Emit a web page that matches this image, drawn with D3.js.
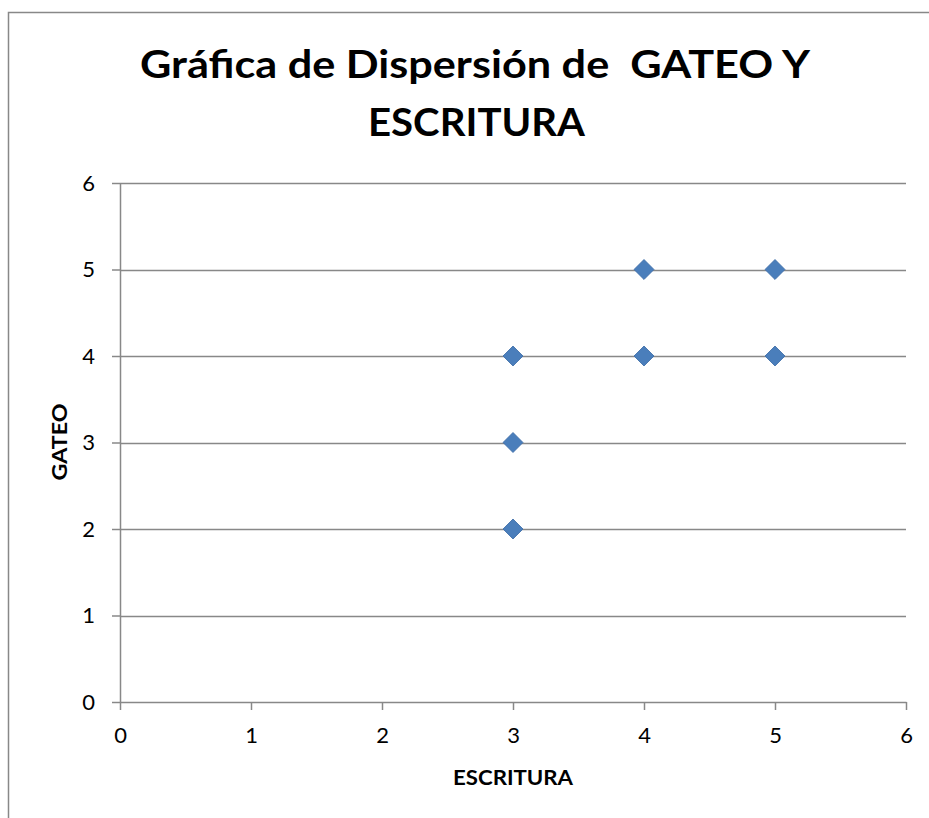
<!DOCTYPE html>
<html>
<head>
<meta charset="utf-8">
<script src="https://cdn.jsdelivr.net/npm/d3@7"></script>
<style>
  html, body { margin: 0; padding: 0; background: #ffffff; }
  svg { display: block; }
</style>
</head>
<body>
<svg id="chart" width="929" height="818"></svg>
<script>
// ---- Data ----
const escritura = [3, 3, 3, 4, 4, 5, 5];
const gateo     = [2, 3, 4, 4, 5, 4, 5];
const xTicks = [0, 1, 2, 3, 4, 5, 6];
const yTicks = [0, 1, 2, 3, 4, 5, 6];
const titleLines = ["Gráfica de Dispersión de  GATEO Y", "ESCRITURA"];
const xTitle = "ESCRITURA";
const yTitle = "GATEO";

const svg = d3.select("#chart");
const W = 929, H = 818;
const plot = { left: 120, right: 906, top: 183, bottom: 702 };

svg.append("rect").attr("x", 0).attr("y", 0).attr("width", W).attr("height", H).attr("fill", "#fff");
// outer chart border (extends past the picture on the right and bottom)
svg.append("rect")
  .attr("x", 8.5).attr("y", 12.5).attr("width", 1000).attr("height", 1000)
  .attr("fill", "none").attr("stroke", "#888888").attr("stroke-width", 1.5);

const x = d3.scaleLinear().domain([0, 6]).range([plot.left, plot.right]);
const y = d3.scaleLinear().domain([0, 6]).range([plot.bottom, plot.top]);

const gridColor = "#888888";

// gridlines
svg.append("g").selectAll("line")
  .data(yTicks.filter(d => d > 0))
  .join("line")
  .attr("x1", plot.left).attr("x2", plot.right)
  .attr("y1", d => Math.round(y(d)) + 0.5).attr("y2", d => Math.round(y(d)) + 0.5)
  .attr("stroke", gridColor).attr("stroke-width", 1.5);

const fontFam = "Lato, 'Open Sans', 'Liberation Sans', sans-serif";

// Y axis
const yAxis = svg.append("g")
  .attr("transform", `translate(${plot.left},0)`)
  .call(d3.axisLeft(y).tickValues(yTicks).tickFormat(d3.format("d")).tickSize(8).tickPadding(17).tickSizeOuter(0));
yAxis.select(".domain").attr("stroke", gridColor).attr("stroke-width", 1.5);
yAxis.selectAll(".tick line").attr("stroke", gridColor).attr("stroke-width", 1.5);
yAxis.selectAll(".tick text").attr("fill", "#000").attr("font-size", 22).attr("font-family", fontFam);

// X axis
const xAxis = svg.append("g")
  .attr("transform", `translate(0,${plot.bottom})`)
  .call(d3.axisBottom(x).tickValues(xTicks).tickFormat(d3.format("d")).tickSize(8).tickSizeOuter(0));
xAxis.select(".domain").attr("stroke", gridColor).attr("stroke-width", 1.5);
xAxis.selectAll(".tick line").attr("stroke", gridColor).attr("stroke-width", 1.5);
xAxis.selectAll(".tick text").attr("fill", "#000").attr("font-size", 22).attr("font-family", fontFam)
  .attr("y", 41).attr("dy", 0);

// points
const pts = escritura.map((v, i) => ({ x: v, y: gateo[i] }));
const sym = d3.symbol().type(d3.symbolSquare).size(200);
svg.append("g").selectAll("path")
  .data(pts)
  .join("path")
  .attr("d", sym)
  .attr("transform", d => `translate(${x(d.x)},${y(d.y)}) rotate(45)`)
  .attr("fill", "#4A7EBB")
  .attr("stroke", "#3F6EA8")
  .attr("stroke-width", 0.8);

// title
const tl = svg.append("g").attr("font-family", fontFam).attr("font-weight", "bold").attr("fill", "#000");
tl.append("text").attr("x", 475).attr("y", 78).attr("text-anchor", "middle")
  .attr("font-size", 39).attr("textLength", 670).attr("lengthAdjust", "spacingAndGlyphs")
  .style("white-space", "pre").text(titleLines[0]);
tl.append("text").attr("x", 476.5).attr("y", 136).attr("text-anchor", "middle")
  .attr("font-size", 39).attr("textLength", 217).attr("lengthAdjust", "spacingAndGlyphs")
  .text(titleLines[1]);

// axis titles
svg.append("text").attr("x", 513).attr("y", 785).attr("text-anchor", "middle")
  .attr("font-family", fontFam).attr("font-weight", "bold").attr("font-size", 20)
  .attr("textLength", 120).attr("lengthAdjust", "spacingAndGlyphs")
  .text(xTitle);
svg.append("text").attr("transform", "translate(67,442) rotate(-90)").attr("text-anchor", "middle")
  .attr("font-family", fontFam).attr("font-weight", "bold").attr("font-size", 20)
  .attr("textLength", 77).attr("lengthAdjust", "spacingAndGlyphs")
  .text(yTitle);
</script>
</body>
</html>
